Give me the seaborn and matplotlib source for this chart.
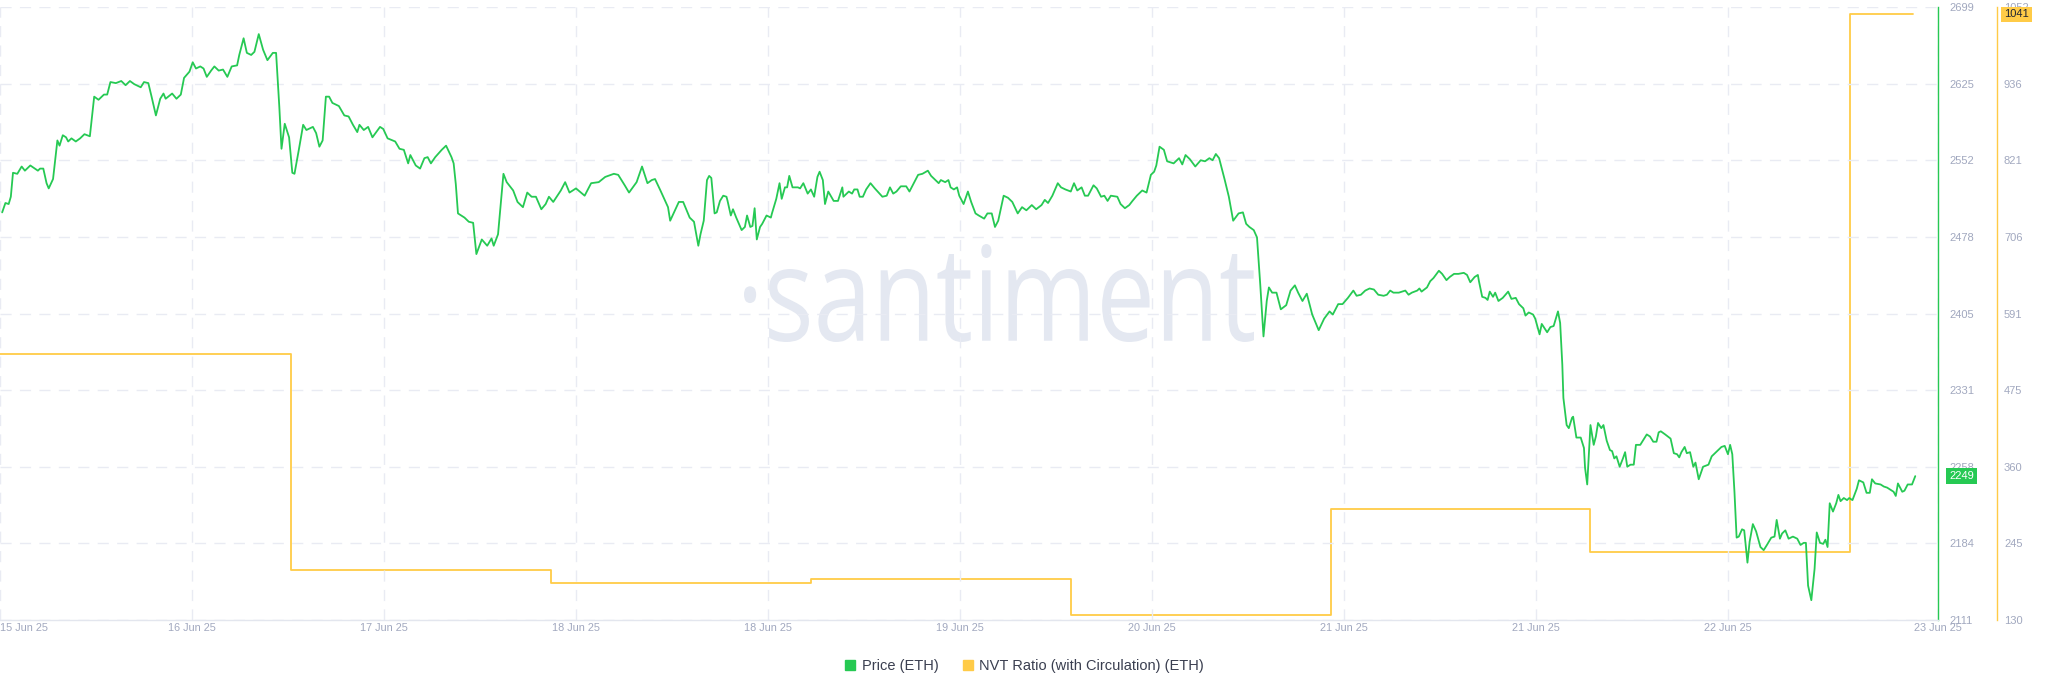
import numpy as np
import pandas as pd
import seaborn as sns
import matplotlib
matplotlib.use("Agg")
import matplotlib.pyplot as plt
import matplotlib.dates as mdates
import matplotlib.transforms as mtransforms
from matplotlib.lines import Line2D
from matplotlib.ticker import FuncFormatter
from matplotlib.textpath import TextPath
from matplotlib.font_manager import FontProperties
from matplotlib.patches import PathPatch

# --- data (hours after the first sample) ---
start_time = pd.Timestamp("2025-06-15 21:06")

price_hours = [
    0.2, 0.5, 0.8, 1.0, 1.2, 1.6, 2.0, 2.3, 2.8, 3.5, 3.7, 4.0, 4.3, 4.5, 4.9, 5.3, 5.5, 5.8, 6.1, 6.3,
    6.6, 7.0, 7.4, 7.8, 8.3, 8.7, 9.1, 9.6, 9.9, 10.2, 10.7, 11.2, 11.6, 12.0, 12.4, 13.0, 13.3, 13.7, 14.0, 14.4,
    14.8, 15.1, 15.3, 15.9, 16.3, 16.7, 17.0, 17.5, 17.8, 18.1, 18.5, 18.8, 19.1, 19.5, 19.8, 20.2, 20.6, 21.0, 21.4, 21.9,
    22.1, 22.5, 22.8, 23.2, 23.5, 23.9, 24.3, 24.7, 25.2, 25.5, 25.8, 26.0, 26.3, 26.7, 27.0, 27.2, 27.6, 28.0, 28.3, 28.9,
    29.2, 29.5, 29.8, 30.1, 30.4, 30.7, 31.3, 31.8, 32.2, 32.6, 33.0, 33.2, 33.6, 34.0, 34.4, 35.1, 35.4, 35.8, 36.5, 36.9,
    37.3, 37.7, 37.9, 38.4, 38.8, 39.2, 39.5, 39.8, 40.2, 40.8, 41.2, 41.7, 41.9, 42.1, 42.3, 42.9, 43.3, 43.7, 44.0, 44.5,
    45.0, 45.4, 45.6, 46.0, 46.5, 46.8, 47.4, 47.8, 48.3, 48.7, 49.1, 49.5, 50.0, 50.4, 50.7, 51.1, 51.8, 52.2, 52.6, 53.2,
    54.0, 54.6, 55.3, 55.9, 56.7, 57.1, 57.7, 58.1, 58.8, 59.3, 59.8, 60.2, 60.5, 61.0, 61.7, 61.9, 62.7, 63.1, 63.7, 64.1,
    64.5, 64.7, 65.0, 65.3, 65.5, 65.7, 66.0, 66.2, 66.5, 66.8, 67.1, 67.2, 67.5, 67.7, 68.0, 68.5, 68.8, 69.0, 69.3, 69.5,
    69.7, 69.9, 70.2, 70.4, 70.8, 71.2, 71.3, 71.7, 72.0, 72.2, 72.5, 72.7, 72.9, 73.2, 73.7, 73.9, 74.2, 74.6, 74.9, 75.2,
    75.5, 75.7, 76.0, 76.2, 76.5, 77.0, 77.4, 77.8, 77.9, 78.4, 78.7, 78.9, 79.2, 79.4, 79.7, 80.0, 80.4, 80.8, 81.5, 81.9,
    82.2, 82.5, 82.8, 83.2, 83.7, 84.0, 84.4, 84.8, 85.2, 85.7, 86.0, 86.4, 86.7, 86.9, 87.3, 87.6, 87.8, 88.1, 88.4, 88.6,
    89.0, 89.4, 89.7, 90.1, 90.4, 90.9, 91.2, 91.6, 91.9, 92.2, 92.7, 93.1, 93.5, 94.0, 94.4, 94.8, 95.3, 95.7, 96.2, 96.5,
    96.8, 97.2, 97.7, 98.0, 98.4, 98.9, 99.2, 99.5, 99.9, 100.2, 100.5, 101.0, 101.3, 101.7, 102.0, 102.3, 102.6, 103.2, 103.5, 103.9,
    104.3, 104.6, 105.0, 105.5, 105.9, 106.3, 106.6, 106.8, 107.1, 107.5, 107.8, 108.4, 108.9, 109.2, 109.5, 109.9, 110.4, 110.9, 111.3, 111.7,
    112.0, 112.3, 112.6, 113.1, 113.5, 113.9, 114.4, 114.8, 115.1, 115.4, 115.8, 116.1, 116.4, 116.7, 117.0, 117.2, 117.5, 117.9, 118.3, 118.8,
    119.2, 119.6, 119.9, 120.3, 120.7, 121.2, 121.8, 122.3, 122.8, 123.1, 123.6, 124.0, 124.5, 125.0, 125.3, 125.7, 126.1, 126.5, 126.9, 127.3,
    127.8, 128.1, 128.4, 128.7, 129.2, 129.8, 130.1, 130.4, 130.9, 131.1, 131.3, 131.8, 132.1, 132.4, 132.9, 133.2, 133.6, 133.9, 134.3, 134.7,
    135.2, 135.5, 135.8, 136.2, 136.5, 136.6, 136.9, 137.2, 137.4, 137.6, 137.9, 138.1, 138.4, 138.8, 139.3, 139.6, 140.0, 140.3, 140.7, 140.9,
    141.2, 141.6, 141.8, 142.2, 142.4, 142.9, 143.2, 143.5, 143.9, 144.1, 144.3, 144.4, 144.7, 144.9, 145.2, 145.3, 145.6, 146.0, 146.3, 146.4,
    146.6, 146.9, 147.2, 147.4, 147.6, 147.9, 148.1, 148.4, 148.7, 148.9, 149.1, 149.3, 149.6, 149.9, 150.1, 150.3, 150.6, 150.9, 151.1, 151.5,
    151.8, 152.1, 152.4, 152.7, 153.0, 153.2, 153.4, 153.8, 154.3, 154.6, 154.9, 155.1, 155.3, 155.6, 155.8, 156.1, 156.4, 156.6, 156.9, 157.1,
    157.3, 157.8, 158.1, 158.6, 159.0, 159.3, 159.6, 159.8, 160.0, 160.2, 160.4, 160.6, 160.9, 161.1, 161.4, 161.6, 161.9, 162.2, 162.6, 162.9,
    163.2, 163.6, 163.9, 164.1, 164.4, 164.6, 164.9, 165.2, 165.6, 166.0, 166.3, 166.6, 166.8, 167.0, 167.3, 167.6, 167.8, 168.1, 168.4, 168.6,
    168.8, 169.0, 169.3, 169.6, 169.8, 170.0, 170.3, 170.6, 170.8, 171.1, 171.5, 171.7, 172.1, 172.4, 172.7, 172.9, 173.2, 173.7, 174.0, 174.3,
    174.6, 174.9, 175.1, 175.3, 175.7, 175.9, 176.2, 176.6, 176.9,
]

price_values = [
    2502, 2511, 2510, 2517, 2540, 2539, 2546, 2542, 2547, 2542, 2544, 2544, 2530, 2525, 2534, 2571, 2566, 2576, 2574, 2570,
    2573, 2570, 2573, 2577, 2575, 2613, 2610, 2615, 2615, 2627, 2626, 2628, 2624, 2628, 2625, 2622, 2627, 2626, 2613, 2595,
    2611, 2616, 2611, 2616, 2611, 2615, 2631, 2637, 2646, 2640, 2642, 2640, 2632, 2638, 2642, 2638, 2639, 2632, 2642, 2643,
    2653, 2669, 2655, 2653, 2656, 2673, 2658, 2648, 2655, 2655, 2603, 2563, 2587, 2574, 2540, 2539, 2562, 2586, 2581, 2584,
    2578, 2565, 2571, 2613, 2613, 2607, 2604, 2595, 2594, 2586, 2579, 2586, 2581, 2584, 2574, 2584, 2582, 2573, 2570, 2563,
    2562, 2549, 2557, 2547, 2544, 2554, 2555, 2549, 2555, 2562, 2566, 2555, 2549, 2529, 2501, 2497, 2493, 2492, 2462, 2476,
    2470, 2477, 2470, 2481, 2539, 2531, 2523, 2512, 2507, 2521, 2517, 2517, 2505, 2510, 2517, 2512, 2523, 2531, 2521, 2525,
    2518, 2530, 2531, 2536, 2539, 2538, 2528, 2521, 2531, 2546, 2530, 2533, 2534, 2523, 2507, 2494, 2512, 2512, 2497, 2493,
    2470, 2481, 2494, 2533, 2537, 2535, 2501, 2502, 2513, 2518, 2517, 2513, 2499, 2505, 2497, 2485, 2488, 2499, 2488, 2489,
    2506, 2476, 2488, 2491, 2499, 2497, 2501, 2515, 2530, 2515, 2526, 2526, 2537, 2526, 2526, 2525, 2530, 2520, 2524, 2517,
    2536, 2541, 2533, 2510, 2522, 2513, 2513, 2526, 2517, 2522, 2520, 2524, 2524, 2517, 2517, 2524, 2530, 2525, 2517, 2518,
    2526, 2520, 2522, 2527, 2527, 2522, 2530, 2538, 2539, 2542, 2537, 2533, 2530, 2533, 2531, 2533, 2526, 2524, 2526, 2518,
    2510, 2522, 2512, 2501, 2499, 2496, 2501, 2501, 2488, 2494, 2518, 2516, 2512, 2501, 2507, 2504, 2509, 2505, 2509, 2514,
    2511, 2518, 2530, 2526, 2524, 2522, 2530, 2523, 2526, 2518, 2518, 2528, 2525, 2517, 2518, 2513, 2518, 2517, 2510, 2506,
    2509, 2513, 2518, 2523, 2521, 2538, 2541, 2547, 2565, 2562, 2551, 2549, 2554, 2548, 2557, 2553, 2546, 2552, 2551, 2554,
    2552, 2558, 2554, 2534, 2517, 2494, 2501, 2502, 2491, 2488, 2485, 2478, 2433, 2383, 2417, 2430, 2425, 2425, 2409, 2413,
    2427, 2432, 2425, 2417, 2424, 2404, 2389, 2400, 2407, 2404, 2414, 2414, 2420, 2427, 2422, 2423, 2427, 2429, 2428, 2423,
    2422, 2423, 2427, 2425, 2425, 2427, 2423, 2425, 2427, 2429, 2426, 2430, 2436, 2439, 2446, 2443, 2437, 2440, 2443, 2443,
    2444, 2442, 2435, 2440, 2442, 2436, 2421, 2420, 2418, 2426, 2421, 2425, 2417, 2420, 2426, 2419, 2420, 2414, 2410, 2403,
    2406, 2404, 2400, 2385, 2395, 2387, 2392, 2393, 2407, 2396, 2356, 2324, 2298, 2295, 2305, 2306, 2286, 2286, 2276, 2257,
    2241, 2298, 2279, 2287, 2300, 2295, 2298, 2283, 2274, 2273, 2266, 2268, 2258, 2266, 2272, 2258, 2260, 2260, 2279, 2279,
    2284, 2289, 2287, 2282, 2282, 2291, 2292, 2289, 2285, 2271, 2270, 2267, 2272, 2277, 2271, 2272, 2258, 2262, 2246, 2252,
    2258, 2260, 2268, 2273, 2277, 2278, 2270, 2279, 2270, 2234, 2190, 2191, 2198, 2197, 2166, 2186, 2203, 2196, 2181, 2178,
    2183, 2190, 2191, 2207, 2189, 2194, 2197, 2189, 2191, 2189, 2183, 2185, 2185, 2144, 2130, 2160, 2195, 2185, 2184, 2188,
    2181, 2223, 2215, 2223, 2231, 2225, 2228, 2226, 2228, 2226, 2237, 2245, 2243, 2233, 2233, 2246, 2242, 2241, 2239, 2238,
    2236, 2234, 2230, 2242, 2234, 2235, 2241, 2241, 2249,
]

# NVT is daily; each value holds until the next timestamp
nvt_times = ["2025-06-15 21:06", "2025-06-17 00:00", "2025-06-18 00:00", "2025-06-19 00:00",
             "2025-06-20 00:00", "2025-06-21 00:00", "2025-06-22 00:00", "2025-06-23 00:00",
             "2025-06-23 05:45"]
nvt_values = [530, 205, 185, 191, 138, 297, 233, 1041, 1041]

price_last = 2249
nvt_last = 1041

price_range = (2111, 2699)
nvt_range = (130, 1052)
span_hours = 179.0
tick_step_hours = 17.73

legend_labels = ["Price (ETH)", "NVT Ratio (with Circulation) (ETH)"]

GREEN = "#26C953"
YELLOW = "#FFCB47"
TICK_COLOR = "#A1A8BF"
GRID_COLOR = "#E9EBF3"
WATERMARK_COLOR = "#E4E8F1"

# --- frames ---
df_price = pd.DataFrame({
    "time": start_time + pd.to_timedelta(price_hours, unit="h"),
    "price": price_values,
})
df_nvt = pd.DataFrame({"time": pd.to_datetime(nvt_times, format="%Y-%m-%d %H:%M"), "nvt": nvt_values})

# --- figure ---
sns.set_theme(style="white")
plt.rcParams["font.family"] = ["Liberation Sans", "DejaVu Sans"]

fig = plt.figure(figsize=(20.48, 6.93), dpi=100)
W, H = 2048, 693
ax = fig.add_axes([0, 1 - 620 / H, 1938 / W, (620 - 7) / H])
ax2 = ax.twinx()

ax.set_zorder(2)
ax2.set_zorder(1)
ax.patch.set_visible(False)

sns.lineplot(data=df_nvt, x="time", y="nvt", ax=ax2, color=YELLOW, linewidth=1.3,
             drawstyle="steps-post")
sns.lineplot(data=df_price, x="time", y="price", ax=ax, color=GREEN, linewidth=1.3)

end_time = start_time + pd.Timedelta(hours=span_hours)
ax.set_xlim(start_time, end_time)
ax.set_ylim(*price_range)
ax2.set_ylim(*nvt_range)

# watermark: condensed "·santiment" drawn as a squeezed text path (pixel box 744..1254, baseline at y=340)
wm = TextPath((0, 0), "\u00b7santiment", size=100, prop=FontProperties(family="Open Sans"))
ext = wm.get_extents()
sx = (1254 - 744) / ext.width
sy = 98 / ext.height
wm_tr = (mtransforms.Affine2D()
         .translate(-ext.x0, -ext.y0)
         .scale(sx, sy)
         .translate(744, H - 342)
         .scale(1 / W, 1 / H)) + fig.transFigure
ax2.add_patch(PathPatch(wm, transform=wm_tr, facecolor=WATERMARK_COLOR, edgecolor="none", zorder=0))

xticks = [start_time + pd.Timedelta(hours=tick_step_hours * k) for k in range(10)] + [end_time]
ax.set_xticks([t.to_pydatetime() for t in xticks])
ax.xaxis.set_major_formatter(mdates.DateFormatter("%d %b %y"))

ax.set_yticks(np.linspace(price_range[0], price_range[1], 9))
ax2.set_yticks(np.linspace(nvt_range[0], nvt_range[1], 9))
floor_fmt = FuncFormatter(lambda v, p: f"{int(np.floor(v + 1e-6))}")
ax.yaxis.set_major_formatter(floor_fmt)
ax2.yaxis.set_major_formatter(floor_fmt)

ax.yaxis.tick_right()
ax.tick_params(axis="y", length=0, pad=8, labelsize=8, labelcolor=TICK_COLOR,
               left=False, labelleft=False, right=True, labelright=True)
ax2.tick_params(axis="y", length=0, pad=5, labelsize=8, labelcolor=TICK_COLOR)
ax.tick_params(axis="x", length=0, pad=2.5, labelsize=7.8, labelcolor=TICK_COLOR)
ax.get_xticklabels()[0].set_ha("left")

for a in (ax, ax2):
    a.set_xlabel("")
    a.set_ylabel("")

ax.grid(True, axis="both", color=GRID_COLOR, linestyle=(0, (8, 6)), linewidth=1.0)
ax2.grid(False)

for side in ("top", "left"):
    ax.spines[side].set_visible(False)
ax.spines["bottom"].set_color("#E3E6EE")
ax.spines["bottom"].set_linewidth(1.0)
ax.spines["right"].set_color(GREEN)
ax.spines["right"].set_linewidth(1.0)

for side in ("top", "left", "bottom"):
    ax2.spines[side].set_visible(False)
ax2.spines["right"].set_position(("axes", 1997 / 1938))
ax2.spines["right"].set_color(YELLOW)
ax2.spines["right"].set_linewidth(1.0)

# last-value badges
t1 = mtransforms.blended_transform_factory(ax.transAxes, ax.transData)
ax.text(1 + 11 / 1938, price_last, f"{price_last}", transform=t1, ha="left", va="center",
        fontsize=8, color="white", zorder=10,
        bbox=dict(boxstyle="square,pad=0.25", fc=GREEN, ec="none"))
t2 = mtransforms.blended_transform_factory(ax2.transAxes, ax2.transData)
ax2.text(2004 / 1938, nvt_last, f"{nvt_last}", transform=t2, ha="left", va="center",
         fontsize=8, color="#1E2433", zorder=10,
         bbox=dict(boxstyle="square,pad=0.25", fc=YELLOW, ec="none"))

# legend
handles = [
    Line2D([], [], marker="s", linestyle="None", markersize=7, markerfacecolor=GREEN, markeredgecolor=GREEN),
    Line2D([], [], marker="s", linestyle="None", markersize=7, markerfacecolor=YELLOW, markeredgecolor=YELLOW),
]
fig.legend(handles, legend_labels, loc="center", bbox_to_anchor=(0.5, 1 - 666 / H), ncol=2,
           frameon=False, fontsize=10.5, labelcolor="#3A3F50", handlelength=0.8,
           handletextpad=0.4, columnspacing=1.6)

fig.savefig("out.png", dpi=100, facecolor="white")
